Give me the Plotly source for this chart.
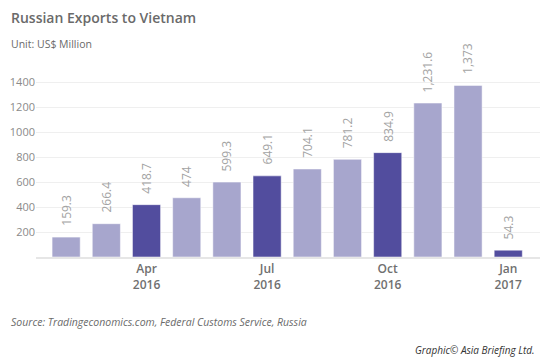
import plotly.graph_objects as go

months = ["Feb 2016", "Mar 2016", "Apr 2016", "May 2016", "Jun 2016", "Jul 2016",
          "Aug 2016", "Sep 2016", "Oct 2016", "Nov 2016", "Dec 2016", "Jan 2017"]
values = [159.3, 266.4, 418.7, 474, 599.3, 649.1, 704.1, 781.2, 834.9, 1231.6, 1373, 54.3]
labels = ["159.3", "266.4", "418.7", "474", "599.3", "649.1", "704.1", "781.2", "834.9",
          "1,231.6", "1,373", "54.3"]
highlight = [False, False, True, False, False, True, False, False, True, False, False, True]
tick_idx = [2, 5, 8, 11]
tick_text = ["Apr<br>2016", "Jul<br>2016", "Oct<br>2016", "Jan<br>2017"]
y_ticks = [200, 400, 600, 800, 1000, 1200, 1400]

LIGHT = "#a7a6cd"
DARK = "#524d9e"
FONT = "Open Sans"

x = list(range(len(values)))
colors = [DARK if h else LIGHT for h in highlight]

fig = go.Figure()
fig.add_trace(go.Bar(
    x=x, y=values,
    marker=dict(color=colors, line=dict(color="rgba(255,255,255,0.5)", width=1)),
    width=0.7, hoverinfo="skip",
))

for xi, v, lab in zip(x, values, labels):
    fig.add_annotation(
        x=xi, y=v, xref="x", yref="y", text=lab, textangle=-90,
        showarrow=False, xanchor="center", yanchor="bottom", yshift=9,
        font=dict(family=FONT, size=12, color="#a3a3a3"),
    )

fig.add_annotation(
    x=-0.054, y=1.218, xref="paper", yref="paper", xanchor="left", yanchor="middle",
    text="Russian Exports to Vietnam", showarrow=False,
    font=dict(family=FONT, size=14, color="#6a6a6a", weight=600),
)
fig.add_annotation(
    x=-0.054, y=1.081, xref="paper", yref="paper", xanchor="left", yanchor="middle",
    text="Unit: US$ Million", showarrow=False,
    font=dict(family=FONT, size=10.5, color="#6a6a6a"),
)
fig.add_annotation(
    x=-0.054, y=-0.332, xref="paper", yref="paper", xanchor="left", yanchor="middle",
    text="<i>Source: Tradingeconomics.com, Federal Customs Service, Russia</i>", showarrow=False,
    font=dict(family=FONT, size=10.5, color="#6a6a6a"),
)
fig.add_annotation(
    x=0.994, y=-0.472, xref="paper", yref="paper", xanchor="right", yanchor="middle",
    text="<i>Graphic© Asia Briefing Ltd.</i>", showarrow=False,
    font=dict(family=FONT, size=10, color="#333333"),
)

fig.update_layout(
    width=551, height=360,
    margin=dict(l=36, r=11, t=60, b=103),
    plot_bgcolor="white", paper_bgcolor="white",
    showlegend=False, bargap=0.3,
    font=dict(family=FONT),
)
fig.update_xaxes(
    range=[-0.75, 11.79], tickvals=tick_idx, ticktext=tick_text,
    tickfont=dict(family=FONT, size=12, color="#707070", weight=600),
    showgrid=False, zeroline=False, showline=True, linecolor="#e6e6e6", linewidth=1.5,
    ticks="",
)
fig.update_yaxes(
    range=[0, 1576], tickvals=y_ticks,
    tickfont=dict(family=FONT, size=11, color="#8a8a8a"),
    showgrid=True, gridcolor="#efefef", gridwidth=1, zeroline=False, ticks="",
)

fig.write_html(
    "out.html",
    config={"displayModeBar": False, "staticPlot": True},
    post_script="document.body.style.margin='0';document.body.style.overflow='hidden';",
)
